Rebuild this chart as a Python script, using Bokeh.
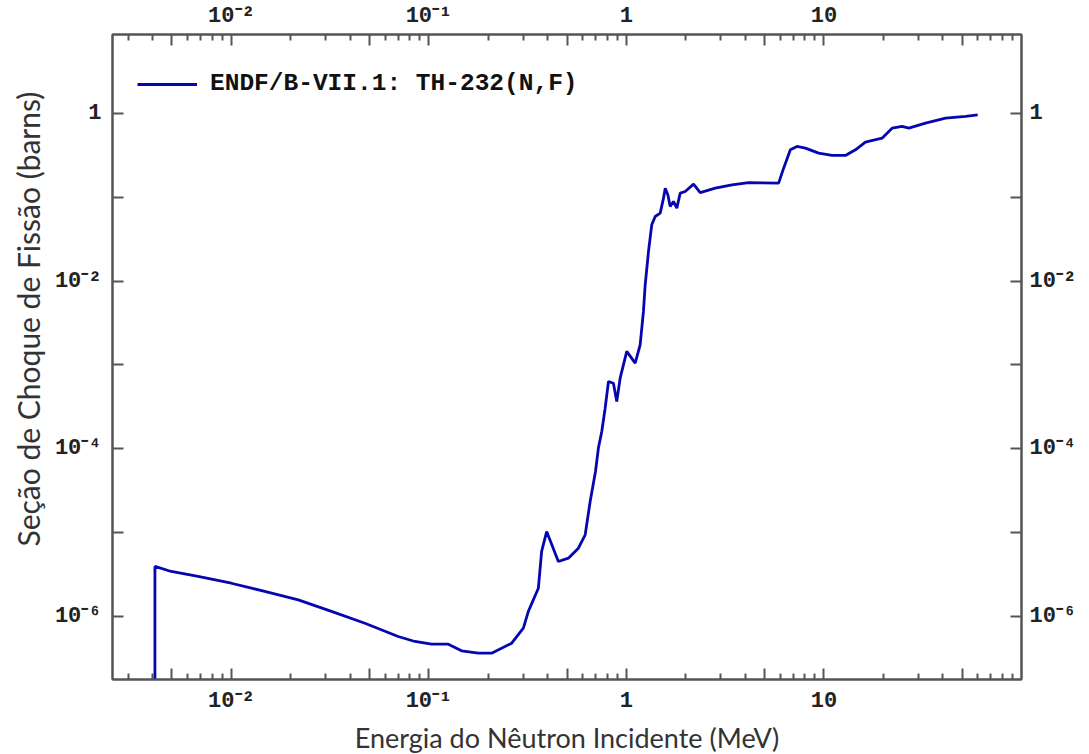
from bokeh.plotting import figure
from bokeh.models import LogAxis, FixedTicker, Legend, LegendItem, Range1d, Title
from bokeh.embed import file_html
from bokeh.resources import INLINE

# Th-232 (n,f) cross section, ENDF/B-VII.1
energy_mev = [0.0041, 0.0041, 0.00496, 0.00678, 0.00999, 0.01475, 0.0218, 0.0321,
              0.0474, 0.0699, 0.0849, 0.1031, 0.1253, 0.1463, 0.1778, 0.2076,
              0.2624, 0.3006, 0.3187, 0.358, 0.372, 0.3945, 0.452, 0.508, 0.571,
              0.618, 0.655, 0.697, 0.721, 0.750, 0.780, 0.811, 0.859, 0.893,
              0.929, 1.0035, 1.107, 1.173, 1.219, 1.244, 1.293, 1.343, 1.398,
              1.482, 1.540, 1.571, 1.620, 1.665, 1.730, 1.799, 1.871, 1.984,
              2.186, 2.363, 2.816, 3.419, 4.153, 5.894, 6.248, 6.757, 7.298,
              8.05, 9.40, 10.98, 12.84, 14.43, 16.21, 19.68, 22.12, 24.85,
              26.87, 32.66, 41.24, 52.1, 60.0]
sigma_barns = [1e-8, 3.95e-6, 3.44e-6, 3.0e-6, 2.49e-6, 1.99e-6, 1.58e-6, 1.15e-6,
               8.3e-7, 5.77e-7, 5.03e-7, 4.67e-7, 4.67e-7, 3.89e-7, 3.65e-7, 3.65e-7,
               4.8e-7, 7.24e-7, 1.15e-6, 2.17e-6, 5.96e-6, 1.03e-5, 4.53e-6, 4.96e-6,
               6.53e-6, 9.42e-6, 2.35e-5, 5.36e-5, 1.02e-4, 1.61e-4, 3.05e-4, 6.35e-4,
               6.06e-4, 3.67e-4, 6.95e-4, 1.45e-3, 1.05e-3, 1.74e-3, 4.35e-3, 9.05e-3,
               0.0226, 0.047, 0.059, 0.0647, 0.0977, 0.1285, 0.107, 0.0777, 0.0892,
               0.0742, 0.112, 0.1174, 0.1435, 0.114, 0.1285, 0.141, 0.150, 0.1475,
               0.2226, 0.369, 0.404, 0.386, 0.336, 0.3155, 0.3155, 0.369, 0.455,
               0.507, 0.668, 0.700, 0.668, 0.766, 0.879, 0.921, 0.965]

series_label = "ENDF/B-VII.1: TH-232(N,F)"
x_title = "Energia do Nêutron Incidente (MeV)"
y_title = "Seção de Choque de Fissão (barns)"

# axis ticks and their labels
x_major = [0.005, 0.01, 0.05, 0.1, 0.5, 1.0, 5.0, 10.0, 50.0]
x_labels = ["", "10⁻²", "", "10⁻¹", "", "1", "", "10", ""]
x_minor = [m * d for d in (0.001, 0.01, 0.1, 1.0, 10.0)
           for m in (2, 3, 4, 6, 7, 8, 9)]
y_major = [1e-6, 1e-5, 1e-4, 1e-3, 1e-2, 1e-1, 1.0]
y_labels = ["10⁻⁶", "", "10⁻⁴", "", "10⁻²", "", "1"]

AX = "#555555"
TXT = "#333333"

p = figure(frame_width=909, frame_height=645,
           min_border_left=112, min_border_right=68,
           min_border_top=33, min_border_bottom=76,
           x_axis_type="log", y_axis_type="log",
           x_range=Range1d(0.0025, 100), y_range=Range1d(1.77e-7, 8.75),
           output_backend="svg", toolbar_location=None)
p.xgrid.visible = False
p.ygrid.visible = False
p.outline_line_color = AX
p.outline_line_width = 2
p.background_fill_color = "white"
p.border_fill_color = "white"

r = p.line(energy_mev, sigma_barns, line_color="#0606b0", line_width=2.8)

x_ticker = FixedTicker(ticks=x_major, minor_ticks=x_minor)
y_ticker = FixedTicker(ticks=y_major, minor_ticks=[])

top_axis = LogAxis()
right_axis = LogAxis()
p.add_layout(top_axis, "above")
p.add_layout(right_axis, "right")


def style_axis(ax, ticker, labels, ticks, standoff):
    ax.ticker = ticker
    ax.major_label_overrides = {t: s for t, s in zip(ticks, labels)}
    ax.axis_line_color = AX
    ax.axis_line_width = 2
    ax.major_tick_line_color = AX
    ax.minor_tick_line_color = AX
    ax.major_tick_line_width = 2
    ax.minor_tick_line_width = 2
    ax.major_tick_in = 11
    ax.major_tick_out = 0
    ax.minor_tick_in = 6
    ax.minor_tick_out = 0
    ax.major_label_text_font = "Liberation Mono"
    ax.major_label_text_font_style = "bold"
    ax.major_label_text_font_size = "22px"
    ax.major_label_text_color = "#222222"
    ax.major_label_standoff = standoff


style_axis(p.below[0], x_ticker, x_labels, x_major, 9)
style_axis(top_axis, x_ticker, x_labels, x_major, 6)
style_axis(p.left[0], y_ticker, y_labels, y_major, 11)
style_axis(right_axis, y_ticker, y_labels, y_major, 8)

xa = p.below[0]
xa.axis_label = x_title
xa.axis_label_text_font = "Lato"
xa.axis_label_text_font_size = "27px"
xa.axis_label_text_font_style = "normal"
xa.axis_label_text_color = TXT
xa.axis_label_standoff = 4

# vertical title, placed along the left edge
y_title_box = Title(text=y_title, align="left", offset=133, standoff=10,
                    vertical_align="middle",
                    text_font="Lato", text_font_size="30px",
                    text_font_style="normal", text_color=TXT)
p.add_layout(y_title_box, "left")

legend = Legend(items=[LegendItem(label=series_label, renderers=[r])],
                location=(25, 582), padding=0, margin=0,
                glyph_width=60, glyph_height=20, label_standoff=13,
                border_line_alpha=0, background_fill_alpha=0,
                label_text_font="Liberation Mono", label_text_font_style="bold",
                label_text_font_size="24.5px", label_text_color="#111111")
p.add_layout(legend)

open("out.html", "w").write(file_html(p, INLINE))
